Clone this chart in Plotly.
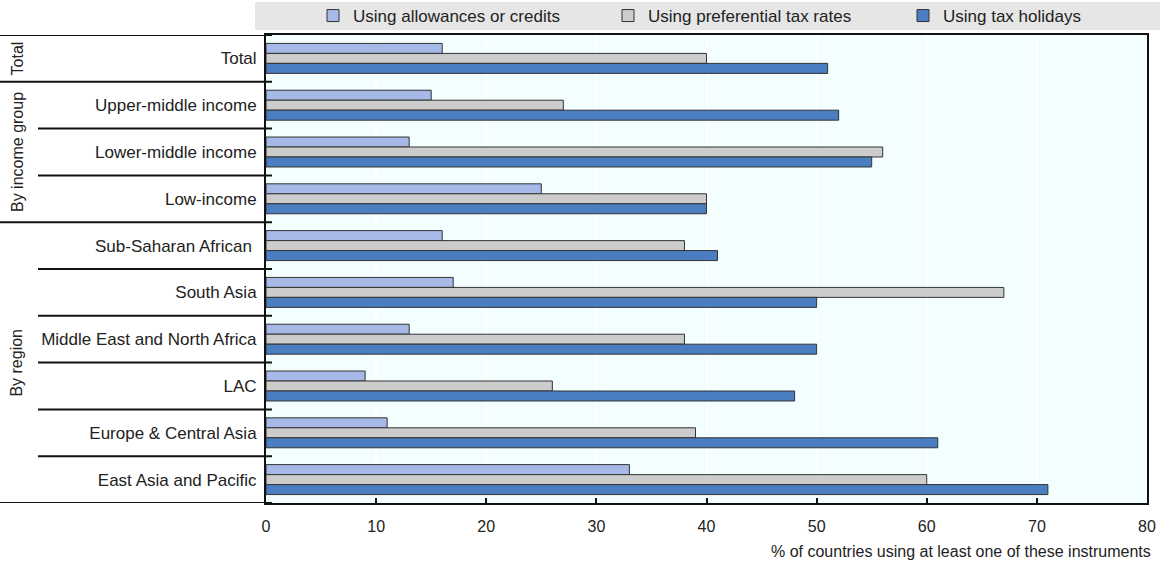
import plotly.graph_objects as go

categories = ["Total", "Upper-middle income", "Lower-middle income", "Low-income",
              "Sub-Saharan African ", "South Asia", "Middle East and North Africa",
              "LAC", "Europe & Central Asia", "East Asia and Pacific"]
allowances = [16, 15, 13, 25, 16, 17, 13, 9, 11, 33]
preferential = [40, 27, 56, 40, 38, 67, 38, 26, 39, 60]
holidays = [51, 52, 55, 40, 41, 50, 50, 48, 61, 71]
series_names = ["Using allowances or credits", "Using preferential tax rates", "Using tax holidays"]
groups = [("Total", 1), ("By income group", 3), ("By region", 6)]
x_ticks = [0, 10, 20, 30, 40, 50, 60, 70, 80]
x_title = "% of countries using at least one of these instruments"

colors = ["#A7B9E7", "#CCCCCC", "#4A7EC0"]
FONT = "Liberation Sans, Arial, sans-serif"
TXT = "#222222"

W, H = 1160, 567
L, R, T, B = 266, 13, 35, 64
pw = W - L - R
ph = H - T - B

def px2paper(xpx):
    return (xpx - L) / pw

def py2paper(ypx):
    return (H - B - ypx) / ph

fig = go.Figure()
for name, vals, col in zip(series_names, [allowances, preferential, holidays], colors):
    fig.add_trace(go.Bar(
        y=categories, x=vals, name=name, orientation="h",
        marker=dict(color=col, line=dict(color="#333333", width=1)),
    ))

shapes = []
# legend band
shapes.append(dict(type="rect", xref="paper", yref="paper",
                   x0=px2paper(255), x1=px2paper(1160), y0=py2paper(30), y1=py2paper(2),
                   fillcolor="#E6E6E6", line=dict(width=0), layer="below"))

# divider lines in label area
idx = 0
group_bounds = [-0.5]
inner_bounds = []
annotations = []
for gname, n in groups:
    start = idx
    for k in range(1, n):
        inner_bounds.append(start + k - 0.5)
    idx += n
    group_bounds.append(idx - 0.5)
    annotations.append(dict(text=gname, textangle=-90, xref="paper", yref="y",
                            x=px2paper(17), y=(start + idx - 1) / 2,
                            showarrow=False, font=dict(size=16, color=TXT, family=FONT),
                            xanchor="center", yanchor="middle"))
for yb in group_bounds:
    shapes.append(dict(type="line", xref="paper", yref="y", x0=px2paper(0), x1=px2paper(272),
                       y0=yb, y1=yb, line=dict(color="#111111", width=2)))
for yb in inner_bounds:
    shapes.append(dict(type="line", xref="paper", yref="y", x0=px2paper(38), x1=px2paper(272),
                       y0=yb, y1=yb, line=dict(color="#111111", width=2)))

annotations.append(dict(text=x_title, xref="paper", yref="paper", x=px2paper(1153), y=py2paper(551),
                        xanchor="right", yanchor="middle", showarrow=False,
                        font=dict(size=16, color=TXT, family=FONT)))

fig.update_layout(
    width=W, height=H,
    margin=dict(l=L, r=R, t=T, b=B, pad=0, autoexpand=False),
    paper_bgcolor="white",
    plot_bgcolor="#F3FEFF",
    barmode="group",
    bargap=0.36,
    bargroupgap=0,
    font=dict(family=FONT, size=16, color=TXT),
    legend=dict(orientation="h", x=px2paper(313), xanchor="left",
                y=py2paper(16), yanchor="middle", bgcolor="rgba(0,0,0,0)",
                entrywidth=250, entrywidthmode="pixels", traceorder="normal",
                font=dict(size=17, color=TXT, family=FONT)),
    shapes=shapes,
    annotations=annotations,
    xaxis=dict(range=[0, 80], tickvals=x_ticks, showgrid=True, gridcolor="white", gridwidth=2,
               zeroline=False, showline=True, linecolor="#111111", linewidth=2, mirror=True,
               ticks="inside", ticklen=5, tickcolor="#111111", tickwidth=2,
               ticklabelstandoff=8,
               tickfont=dict(size=16, color=TXT, family=FONT), fixedrange=True),
    yaxis=dict(categoryorder="array", categoryarray=categories,
               range=[len(categories) - 0.5, -0.5], autorange=False,
               showline=True, linecolor="#111111", linewidth=2, mirror=True,
               showgrid=False, ticks="", ticklabelstandoff=4,
               tickfont=dict(size=17, color=TXT, family=FONT), fixedrange=True),
)

fig.write_html("out.html", config={"displayModeBar": False},
               post_script="document.body.style.margin='0';document.body.style.overflow='hidden';")
